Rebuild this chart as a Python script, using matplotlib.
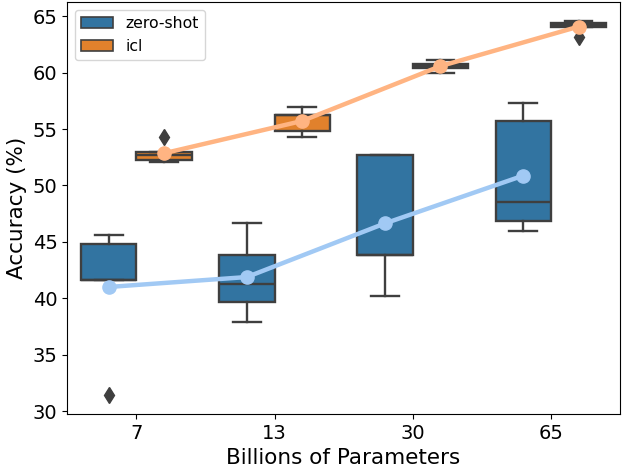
import numpy as np
import matplotlib
matplotlib.use("Agg")
import matplotlib.pyplot as plt
from matplotlib.patches import Patch

# ---- data ----
sizes = ["7", "13", "30", "65"]
hues = ["zero-shot", "icl"]
zero_shot = [
    [31.4, 41.6, 41.6, 44.8, 45.6],
    [37.9, 39.7, 41.3, 43.8, 46.7],
    [40.2, 43.8, 43.8, 52.7, 52.7],
    [46.0, 46.85, 48.5, 55.7, 57.3],
]
icl = [
    [52.05, 52.25, 52.7, 52.95, 54.3],
    [54.3, 54.8, 56.25, 56.27, 56.95],
    [60.0, 60.4, 60.6, 60.75, 61.1],
    [63.13, 64.0, 64.25, 64.4, 64.6],
]

box_colors = ["#3274a1", "#e1812c"]
line_colors = ["#a1c9f4", "#ffb482"]
edge = "#3f3f3f"

fig = plt.figure(figsize=(6.23, 4.71), dpi=100)
ax = fig.add_axes([0.1079, 0.121, 0.8873, 0.8748])

x = np.arange(len(sizes))
offsets = [-0.2, 0.2]
for data, off, bc, lc in zip([zero_shot, icl], offsets, box_colors, line_colors):
    ax.boxplot(
        data, positions=x + off, widths=0.4, patch_artist=True,
        manage_ticks=False, zorder=2,
        boxprops=dict(facecolor=bc, edgecolor=edge, linewidth=1.7),
        medianprops=dict(color=edge, linewidth=1.7),
        whiskerprops=dict(color=edge, linewidth=1.7),
        capprops=dict(color=edge, linewidth=1.7),
        flierprops=dict(marker="d", markerfacecolor=edge, markeredgecolor=edge,
                        markersize=8),
    )
    means = [np.mean(d) for d in data]
    ax.plot(x + off, means, color=lc, linewidth=3.2, marker="o",
            markersize=9.5, zorder=4)

ax.set_xlim(-0.5, len(sizes) - 0.5)
ax.set_xticks(x)
ax.set_xticklabels(sizes)
ax.set_yticks([30, 35, 40, 45, 50, 55, 60, 65])
ax.tick_params(labelsize=14)
ax.set_xlabel("Billions of Parameters", fontsize=15.5)
ax.set_ylabel("Accuracy (%)", fontsize=15.5)

handles = [Patch(facecolor=c, edgecolor=edge, linewidth=1.2, label=h)
           for c, h in zip(box_colors, hues)]
ax.legend(handles=handles, loc="upper left", fontsize=11.3)

fig.savefig("out.png", dpi=100)
